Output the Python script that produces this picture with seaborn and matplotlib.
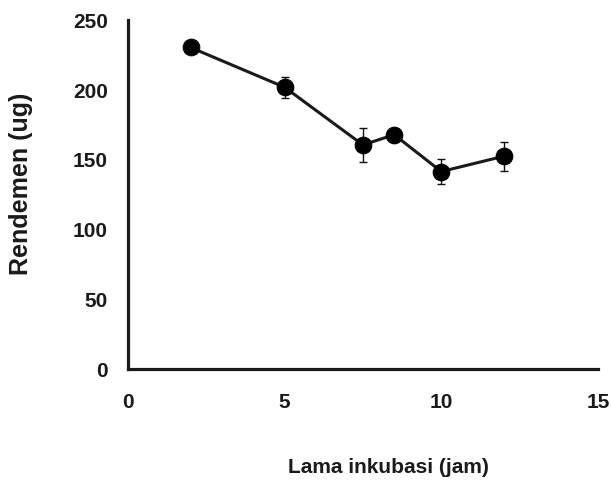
import matplotlib
matplotlib.use("Agg")
import matplotlib.pyplot as plt
import seaborn as sns
import pandas as pd

# Data
lama_inkubasi = [2, 5, 7.5, 8.5, 10, 12]
rendemen = [230.5, 202, 160.7, 168, 141.6, 152.6]
galat = [2, 7.5, 11.9, 5, 9.2, 10.4]

x_ticks = [0, 5, 10, 15]
y_ticks = [0, 50, 100, 150, 200, 250]

sns.set_theme(style="white")
plt.rcParams['font.family'] = ['Liberation Sans', 'DejaVu Sans']
plt.rcParams['font.weight'] = 'bold'

df = pd.DataFrame({"x": lama_inkubasi, "y": rendemen, "err": galat})

fig = plt.figure(figsize=(6.12, 4.82), dpi=100)
ax = fig.add_axes([0.209, 0.234, 0.768, 0.724])

ax.errorbar(df["x"], df["y"], yerr=df["err"], fmt="none", ecolor="#111111",
            elinewidth=1.0, capsize=3, capthick=1.0, zorder=2)
sns.lineplot(data=df, x="x", y="y", ax=ax, color="#1a1a1a", linewidth=2.2,
             marker="o", markersize=12, markerfacecolor="black",
             markeredgecolor="black", zorder=3)

ax.set_xlim(0, 15)
ax.set_ylim(0, 250)
ax.set_xticks(x_ticks)
ax.set_yticks(y_ticks)
ax.set_xticklabels([str(t) for t in x_ticks], fontsize=15, fontweight='bold')
ax.set_yticklabels([str(t) for t in y_ticks], fontsize=15, fontweight='bold')

for s in ["top", "right"]:
    ax.spines[s].set_visible(False)
for s in ["left", "bottom"]:
    ax.spines[s].set_linewidth(2.3)
    ax.spines[s].set_color("#1a1a1a")

ax.tick_params(axis="both", direction="out", length=4, width=2, color="#1a1a1a",
               labelcolor="#1a1a1a")
ax.tick_params(axis="y", pad=10.5)
ax.tick_params(axis="x", pad=13)

ax.set_xlabel("Lama inkubasi (jam)", fontsize=15, fontweight='bold', color="#1a1a1a")
ax.set_ylabel("Rendemen (ug)", fontsize=18, fontweight='bold', color="#1a1a1a")
ax.xaxis.set_label_coords(0.555, -0.255)
ax.yaxis.set_label_coords(-0.202, 0.53)

fig.savefig("out.png", dpi=100, facecolor="white")
